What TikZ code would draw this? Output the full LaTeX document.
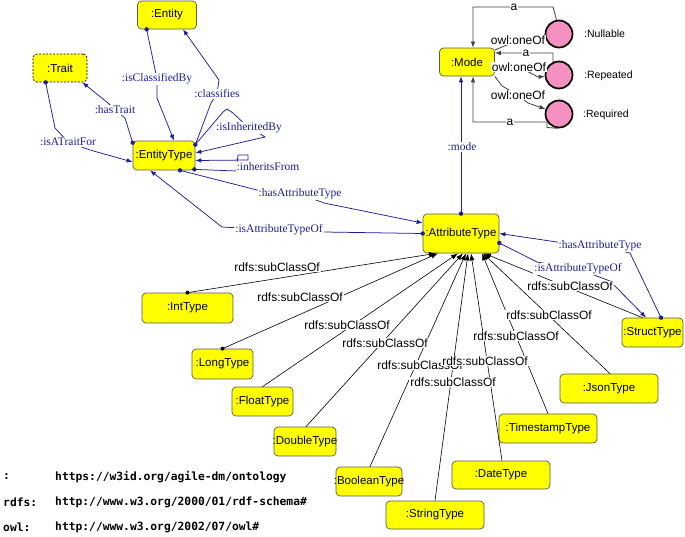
\documentclass[tikz,border=0pt]{standalone}
\usepackage{fontspec}
\setmainfont{Liberation Serif}
\setsansfont{Liberation Sans}
\newfontfamily\monofont{DejaVu Sans Mono}
\usetikzlibrary{arrows.meta,calc}
\definecolor{ylw}{RGB}{255,255,0}
\definecolor{bl}{RGB}{30,30,150}
\definecolor{pnk}{RGB}{245,145,192}
\newcommand\ctrtxt[1]{\makebox[0pt]{#1}}
\begin{document}
\begin{tikzpicture}[x=1pt,y=-1pt,
  cls/.style={draw=black!65,line width=0.7pt,fill=ylw,rounded corners=4pt,inner sep=0pt,
    font=\sffamily\fontsize{11.5}{13}\selectfont},
  ind/.style={circle,draw=black,line width=1.7pt,fill=pnk,minimum size=27pt,inner sep=0pt},
  indlab/.style={anchor=west,inner sep=0pt,font=\sffamily\fontsize{10.5}{12}\selectfont},
  blab/.style={fill=white,inner sep=1pt,text=bl,font=\rmfamily\fontsize{11.5}{13}\selectfont},
  slab/.style={fill=white,inner sep=1pt,font=\sffamily\fontsize{12}{14}\selectfont},
  alab/.style={fill=white,inner sep=0.5pt,font=\sffamily\fontsize{12}{14}\selectfont},
  bedge/.style={draw=bl,line width=0.75pt,-{Latex[length=6pt,width=4.5pt]}},
  sedge/.style={draw=black,line width=0.6pt,-{Latex[length=7pt,width=5pt]}},
  gedge/.style={draw=black!75,line width=0.8pt,-{Latex[length=6pt,width=4.5pt]}},
  pfx/.style={anchor=west,inner sep=0pt,font=\monofont\bfseries\fontsize{11.3}{13}\selectfont}]
\useasboundingbox (0,0) rectangle (685,536);
\fill[white] (0,0) rectangle (685,536);

% classes
\node[cls,minimum width=59pt,minimum height=28pt] (Entity) at (167,15) {\ctrtxt{:Entity}};
\node[cls,draw=black,dash pattern=on 2pt off 1.5pt,minimum width=54pt,minimum height=28pt] (Trait) at (60,68) {\ctrtxt{:Trait}};
\node[cls,minimum width=62pt,minimum height=29pt] (ET) at (164,155.5) {\ctrtxt{:EntityType}};
\node[cls,minimum width=55pt,minimum height=28pt] (Mode) at (467,62) {\ctrtxt{:Mode}};
\node[cls,minimum width=76pt,minimum height=39pt] (AT) at (461,233.5) {\ctrtxt{:AttributeType}};
\node[cls,minimum width=61pt,minimum height=29pt] (Struct) at (652.5,332.5) {\ctrtxt{:StructType}};
\node[cls,minimum width=91pt,minimum height=30pt] (Int) at (187.5,308) {\ctrtxt{:IntType}};
\node[cls,minimum width=61pt,minimum height=30pt] (Long) at (222.5,364) {\ctrtxt{:LongType}};
\node[cls,minimum width=61pt,minimum height=29pt] (Float) at (262.5,401.5) {\ctrtxt{:FloatType}};
\node[cls,minimum width=62pt,minimum height=29pt] (Double) at (305,441.5) {\ctrtxt{:DoubleType}};
\node[cls,minimum width=66pt,minimum height=29pt] (Bool) at (369,481.5) {\ctrtxt{:BooleanType}};
\node[cls,minimum width=98pt,minimum height=28pt] (String) at (435,515) {\ctrtxt{:StringType}};
\node[cls,minimum width=98pt,minimum height=28pt] (Date) at (501,475) {\ctrtxt{:DateType}};
\node[cls,minimum width=98pt,minimum height=29pt] (Ts) at (548,428.5) {\ctrtxt{:TimestampType}};
\node[cls,minimum width=98pt,minimum height=29pt] (Json) at (609,388.5) {\ctrtxt{:JsonType}};

% individuals
\node[ind] (Null) at (559,34) {};
\node[ind] (Rep) at (559,75) {};
\node[ind] (Req) at (559,114) {};
\node[indlab] (nNull) at (584,34) {:Nullable};
\node[indlab] (nRep) at (584,76) {:Repeated};
\node[indlab] (nReq) at (583,115) {:Required};

% blue object property edges
\draw[bedge] ([xshift=9.5pt]Entity.south west) -- (157,79) -- (157,98) -- ([xshift=10pt]ET.north);
\draw[bedge] ([yshift=-4pt]ET.north east) -- (211,103) -- (217,94) -- (219,80) -- ([xshift=16pt]Entity.south);
\draw[bedge] ([yshift=-2pt]ET.north west) -- (125,118) -- (115,110) -- (108,103) -- ([xshift=-5pt]Trait.south east);
\draw[bedge] ([xshift=13pt]Trait.south west) -- (55,128) -- (68,142) -- (90,150) -- ([yshift=-6.5pt]ET.west);
\draw[bedge] ([yshift=-4pt]ET.north east) -- (223,112) -- (227,109) -- (233,113) -- (249,128) -- (262,135) -- (265,137) -- ([yshift=2.5pt]ET.east);
\draw[bedge] ([xshift=-1pt,yshift=1pt]ET.south east) -- (236,171) -- (238,155) -- (248,155) -- (248,160) -- ([yshift=-5pt]ET.east);
\draw[bedge] ([xshift=16pt]ET.south) -- (257,190) -- (300,194) -- (324,203) -- ([yshift=10.5pt]AT.west);
\draw[bedge] (AT.west) -- (324,232) -- (279,230) -- (222,227) -- ([xshift=-14pt]ET.south);
\draw[bedge] (AT.north) -- ([xshift=-6pt]Mode.south);
\draw[bedge] ([xshift=8.5pt]Struct.north) -- (630,253) -- (600,246) -- (557,242) -- (AT.east);
\draw[bedge] ([yshift=-9.5pt]AT.east) -- (537,262) -- (578,269) -- (610,281) -- ([xshift=-6.5pt]Struct.north);

% dots
\foreach \p in {([xshift=9.5pt]Entity.south west),([yshift=-4pt]ET.north east),([yshift=-2pt]ET.north west),
  ([xshift=13pt]Trait.south west),([xshift=-1pt,yshift=1pt]ET.south east),([xshift=16pt]ET.south),
  (AT.west),(AT.north),([xshift=8.5pt]Struct.north),([yshift=-9.5pt]AT.east)}
  {\fill[bl] \p circle (2.2pt);}

% subClassOf edges
\draw[sedge] (Int.north) -- ([xshift=-25pt]AT.south);
\draw[sedge] (Long.north) -- ([xshift=-23pt]AT.south);
\draw[sedge] (Float.north) -- ([xshift=-3pt]AT.south);
\draw[sedge] ([xshift=1pt]Double.north) -- ([xshift=2pt]AT.south);
\draw[sedge] ([xshift=1pt]Bool.north) -- ([xshift=5pt]AT.south);
\draw[sedge] (String.north) -- ([xshift=7pt]AT.south);
\draw[sedge] ([xshift=1pt]Date.north) -- ([xshift=10pt]AT.south);
\draw[sedge] (Ts.north) -- ([xshift=21pt]AT.south);
\draw[sedge] ([xshift=1pt]Json.north) -- ([xshift=22pt]AT.south);
\draw[sedge] ([xshift=-10pt]Struct.north) -- ([xshift=23pt]AT.south);
\fill[black] (Int.north) circle (2pt);
\fill[black] (Long.north) circle (2pt);

% Mode edges
\draw[gedge] (Null.100) -- (553,7) -- (473,7) -- ([xshift=6pt]Mode.north);
\draw[gedge] (Rep.115) -- (553,53) -- ([yshift=9pt]Mode.east);
\draw[gedge] (Req.265) -- (547,127.5) -- (547,122) -- (473,122) -- ([xshift=6pt]Mode.south);
\draw[gedge] ([yshift=12pt]Mode.east) -- (519,40) -- (Null.190);
\draw[gedge] ([yshift=-3pt]Mode.east) -- (519,67) -- (538,77) -- (Rep.185);
\draw[gedge] (Mode.south east) -- (502,86) -- (518,95) -- (528,103) -- (Req.160);

% blue labels
\node[blab] (l1) at (157,79) {:isClassifiedBy};
\node[blab] (l2) at (217,94) {:classifies};
\node[blab] (l3) at (115,110) {:hasTrait};
\node[blab] (l4) at (68,142) {:isATraitFor};
\node[blab] (l5) at (249,128) {:isInheritedBy};
\node[blab] (l6) at (268,167) {:inheritsFrom};
\node[blab] (l7) at (300,194) {:hasAttributeType};
\node[blab] (l8) at (279,230) {:isAttributeTypeOf};
\node[blab] (l9) at (462,147) {:mode};
\node[blab] (l10) at (600,246) {:hasAttributeType};
\node[blab] (l11) at (578,269) {:isAttributeTypeOf};

% subClassOf labels
\node[slab] (s1) at (277,267) {rdfs:subClassOf};
\node[slab] (s2) at (300,297) {rdfs:subClassOf};
\node[slab] (s3) at (347,325) {rdfs:subClassOf};
\node[slab] (s4) at (385,343) {rdfs:subClassOf};
\node[slab] (s5) at (420,365) {rdfs:subClassOf};
\node[slab] (s6) at (485,361) {rdfs:subClassOf};
\node[slab] (s7) at (453,382) {rdfs:subClassOf};
\node[slab] (s8) at (516,336) {rdfs:subClassOf};
\node[slab] (s9) at (549,315) {rdfs:subClassOf};
\node[slab] (s10) at (570,286) {rdfs:subClassOf};

% Mode labels
\node[alab] (a1) at (514,7) {a};
\node[alab] (a2) at (526,53) {a};
\node[alab] (a3) at (510,122) {a};
\node[alab] (o1) at (518,40) {owl:oneOf};
\node[alab] (o2) at (519,67) {owl:oneOf};
\node[alab] (o3) at (518,95) {owl:oneOf};

% prefixes
\node[pfx] (p1) at (3,477) {:};
\node[pfx] (u1) at (55,477) {https://w3id.org/agile-dm/ontology};
\node[pfx] (p2) at (3,502) {rdfs:};
\node[pfx] (u2) at (55,502) {http://www.w3.org/2000/01/rdf-schema\#};
\node[pfx] (p3) at (3,527) {owl:};
\node[pfx] (u3) at (55,527) {http://www.w3.org/2002/07/owl\#};
\end{tikzpicture}
\end{document}
